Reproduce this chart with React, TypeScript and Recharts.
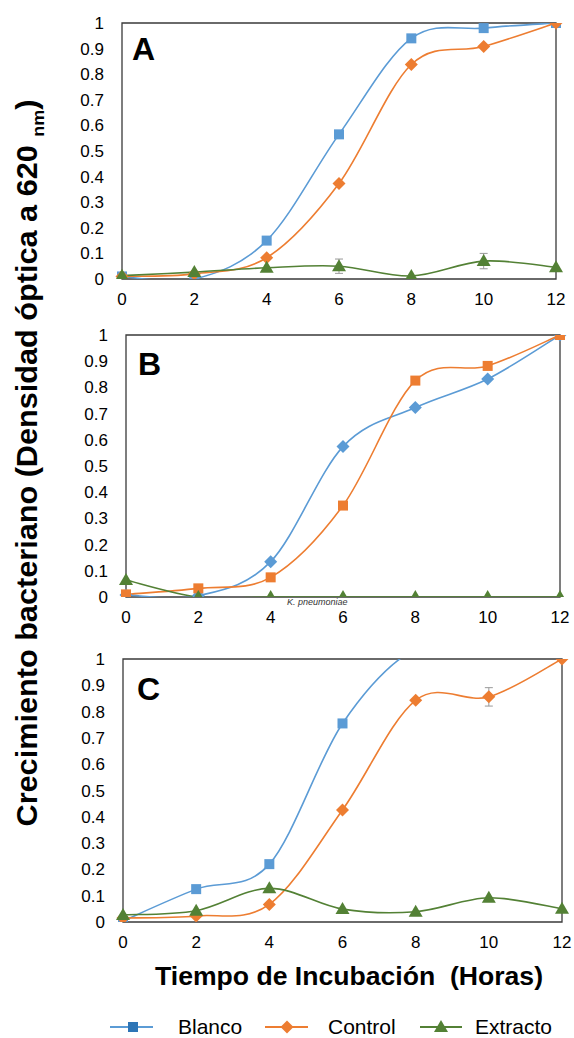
import React from "react";
import { LineChart, Line, XAxis, YAxis, ReferenceArea, ErrorBar } from "recharts";

// horas de incubación
const hours = [0, 2, 4, 6, 8, 10, 12];
const xTicks = [0, 2, 4, 6, 8, 10, 12];
const yTicks = [0, 0.1, 0.2, 0.3, 0.4, 0.5, 0.6, 0.7, 0.8, 0.9, 1];

// panel A
const blancoA = [0.01, 0.0, 0.15, 0.565, 0.94, 0.98, 1.0];
const controlA = [0.01, 0.02, 0.083, 0.373, 0.838, 0.908, 1.0];
const extractoA = [0.013, 0.027, 0.044, 0.05, 0.012, 0.07, 0.046];
const extractoErrA = [0, 0, 0, 0.028, 0, 0.03, 0];

// panel B
const blancoB = [0.008, 0.005, 0.135, 0.574, 0.723, 0.832, 1.0];
const controlB = [0.01, 0.033, 0.075, 0.349, 0.826, 0.882, 1.0];
const extractoB = [0.065, 0, 0, 0, 0, 0, 0];

// panel C
const blancoC = [0.004, 0.125, 0.22, 0.755, 1.04, 1.06, 1.08];
const controlC = [0.015, 0.023, 0.067, 0.426, 0.843, 0.856, 1.0];
const controlErrC = [0, 0, 0, 0, 0, 0.035, 0];
const extractoC = [0.027, 0.043, 0.128, 0.049, 0.039, 0.092, 0.05];

const BLUE = "#5B9BD5";
const ORANGE = "#ED7D31";
const GREEN = "#538135";
const FONT = "'Liberation Sans', Arial, sans-serif";

type Shape = "square" | "diamond" | "triangle";

// excel-like smoothed line (catmull-rom as bezier)
const smoothCurve: any = (ctx: any) => {
  let pts: number[][] = [];
  return {
    areaStart() {},
    areaEnd() {},
    lineStart() {
      pts = [];
    },
    point(x: number, y: number) {
      pts.push([+x, +y]);
    },
    lineEnd() {
      if (!pts.length) return;
      ctx.moveTo(pts[0][0], pts[0][1]);
      for (let i = 0; i < pts.length - 1; i++) {
        const p0 = pts[Math.max(i - 1, 0)];
        const p1 = pts[i];
        const p2 = pts[i + 1];
        const p3 = pts[Math.min(i + 2, pts.length - 1)];
        ctx.bezierCurveTo(
          p1[0] + (p2[0] - p0[0]) / 6,
          p1[1] + (p2[1] - p0[1]) / 6,
          p2[0] - (p3[0] - p1[0]) / 6,
          p2[1] - (p3[1] - p1[1]) / 6,
          p2[0],
          p2[1]
        );
      }
    },
  };
};

function Marker({ shape, x, y, color }: { shape: Shape; x: number; y: number; color: string }) {
  if (shape === "square") return <rect x={x - 5} y={y - 5} width={10} height={10} fill={color} />;
  if (shape === "diamond")
    return <polygon points={`${x},${y - 6.5} ${x + 6.5},${y} ${x},${y + 6.5} ${x - 6.5},${y}`} fill={color} />;
  return <polygon points={`${x},${y - 7} ${x + 7},${y + 5} ${x - 7},${y + 5}`} fill={color} />;
}

const dot = (shape: Shape, color: string) => (p: any) => {
  const k = p.key ?? `d-${p.index}`;
  if (p.cx == null || p.cy == null) return <g key={k} />;
  return <Marker key={k} shape={shape} x={p.cx} y={p.cy} color={color} />;
};

interface PanelProps {
  top: number;
  height: number;
  margin: { top: number; right: number; bottom: number; left: number };
  blanco: number[];
  control: number[];
  extracto: number[];
  blancoShape: Shape;
  controlShape: Shape;
  controlErr?: number[];
  extractoErr?: number[];
}

function Panel({ top, height, margin, blanco, control, extracto, blancoShape, controlShape, controlErr, extractoErr }: PanelProps) {
  const data = hours.map((h, i) => ({
    h,
    blanco: blanco[i],
    control: control[i],
    extracto: extracto[i],
    controlErr: controlErr ? controlErr[i] : 0,
    extractoErr: extractoErr ? extractoErr[i] : 0,
  }));
  const tick = { fontSize: 17, fill: "#000", fontFamily: FONT };
  return (
    <div style={{ position: "absolute", left: 0, top }}>
      <LineChart width={574} height={height} data={data} margin={margin}>
        <ReferenceArea x1={0} x2={12} y1={0} y2={1} fill="none" stroke="#3a3a3a" strokeWidth={1.3} />
        <XAxis
          dataKey="h"
          type="number"
          domain={[0, 12]}
          ticks={xTicks}
          axisLine={false}
          tickLine={false}
          tickMargin={8}
          height={30}
          tick={tick}
        />
        <YAxis
          type="number"
          domain={[0, 1]}
          allowDataOverflow
          ticks={yTicks}
          axisLine={false}
          tickLine={false}
          tickMargin={12}
          width={40}
          tick={tick}
        />
        <Line
          dataKey="blanco"
          type={smoothCurve}
          stroke={BLUE}
          strokeWidth={1.6}
          dot={dot(blancoShape, BLUE)}
          isAnimationActive={false}
        />
        <Line
          dataKey="control"
          type={smoothCurve}
          stroke={ORANGE}
          strokeWidth={1.6}
          dot={dot(controlShape, ORANGE)}
          isAnimationActive={false}
        >
          {controlErr && <ErrorBar dataKey="controlErr" width={4} stroke="#999" strokeWidth={1} />}
        </Line>
        <Line
          dataKey="extracto"
          type={smoothCurve}
          stroke={GREEN}
          strokeWidth={1.6}
          dot={dot("triangle", GREEN)}
          isAnimationActive={false}
        >
          {extractoErr && <ErrorBar dataKey="extractoErr" width={4} stroke="#999" strokeWidth={1} />}
        </Line>
      </LineChart>
    </div>
  );
}

function Overlay() {
  return (
    <svg
      width={574}
      height={1038}
      style={{ position: "absolute", left: 0, top: 0, pointerEvents: "none" }}
      fontFamily={FONT}
    >
      <text x={132} y={60} fontSize={32} fontWeight="bold">A</text>
      <text x={138} y={375} fontSize={32} fontWeight="bold">B</text>
      <text x={137} y={700} fontSize={32} fontWeight="bold">C</text>
      <text x={287} y={605} fontSize={9} fontStyle="italic" fill="#333">K. pneumoniae</text>

      <text
        transform="translate(37,463) rotate(-90)"
        textAnchor="middle"
        fontSize={29}
        fontWeight="bold"
        textLength={727}
        lengthAdjust="spacingAndGlyphs"
      >
        Crecimiento bacteriano (Densidad óptica a 620 <tspan dy={7} fontSize={17}>nm</tspan>
        <tspan dy={-7}>)</tspan>
      </text>

      <text
        x={349}
        y={985}
        textAnchor="middle"
        fontSize={26}
        fontWeight="bold"
        textLength={388}
        lengthAdjust="spacingAndGlyphs"
        style={{ whiteSpace: "pre" }}
      >
        Tiempo de Incubación  (Horas)
      </text>

      <g>
        <line x1={110} x2={153} y1={1027} y2={1027} stroke={BLUE} strokeWidth={2} />
        <Marker shape="square" x={133} y={1027} color="#2E75B6" />
        <text x={178} y={1034} fontSize={21}>Blanco</text>
        <line x1={265} x2={308} y1={1027} y2={1027} stroke={ORANGE} strokeWidth={2} />
        <Marker shape="diamond" x={287} y={1027} color={ORANGE} />
        <text x={328} y={1034} fontSize={21}>Control</text>
        <line x1={420} x2={462} y1={1027} y2={1027} stroke={GREEN} strokeWidth={2} />
        <Marker shape="triangle" x={441} y={1027} color={GREEN} />
        <text x={475} y={1034} fontSize={21}>Extracto</text>
      </g>
    </svg>
  );
}

export default function App() {
  return (
    <div style={{ position: "absolute", left: 0, top: 0, width: 574, height: 1038, background: "#fff" }}>
      <Panel
        top={0}
        height={315}
        margin={{ top: 23, right: 18, bottom: 6, left: 82 }}
        blanco={blancoA}
        control={controlA}
        extracto={extractoA}
        blancoShape="square"
        controlShape="diamond"
        extractoErr={extractoErrA}
      />
      <Panel
        top={315}
        height={320}
        margin={{ top: 20, right: 14, bottom: 8, left: 86 }}
        blanco={blancoB}
        control={controlB}
        extracto={extractoB}
        blancoShape="diamond"
        controlShape="square"
      />
      <Panel
        top={640}
        height={320}
        margin={{ top: 19, right: 12, bottom: 8, left: 83 }}
        blanco={blancoC}
        control={controlC}
        extracto={extractoC}
        blancoShape="square"
        controlShape="diamond"
        controlErr={controlErrC}
      />
      <Overlay />
    </div>
  );
}
